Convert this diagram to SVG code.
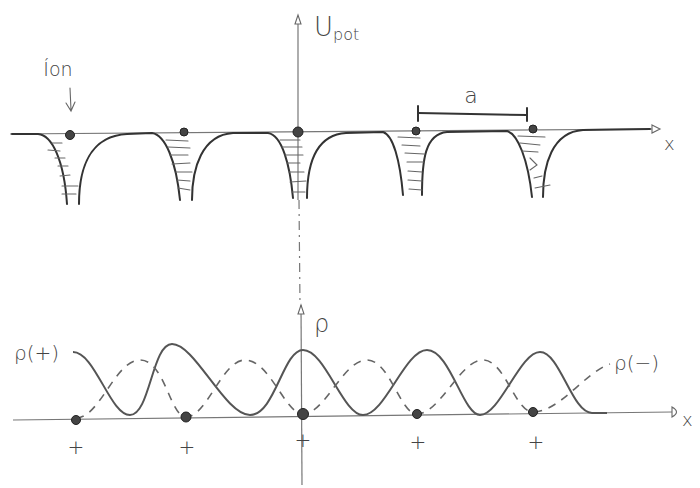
<svg xmlns="http://www.w3.org/2000/svg" width="700" height="488" viewBox="0 0 700 488">
<style>
.ax{stroke:#777;stroke-width:1.2;fill:none}
.pot{stroke:#333;stroke-width:2;fill:none;stroke-linecap:round}
.hat{stroke:#666;stroke-width:1.1;fill:none;stroke-linecap:round}
.ion{fill:#444;stroke:#222;stroke-width:1}
.sol{stroke:#555;stroke-width:2;fill:none}
.dsh{stroke:#666;stroke-width:1.6;fill:none;stroke-dasharray:8 7}
.t{font-family:"DejaVu Sans",sans-serif;fill:#444;font-weight:300}
.head{fill:#fff;stroke:#666;stroke-width:1.1}
</style>
<rect width="700" height="488" fill="#fff"/>
<g id="axes">
<line class="ax" x1="10" y1="134" x2="652" y2="129"/>
<path class="head" d="M652,125 L660,129 L652,133 Z"/>
<line class="ax" x1="298" y1="22" x2="298" y2="200"/>
<path class="head" d="M295,24 L298,15 L301,24 Z"/>
<line class="ax" x1="299" y1="200" x2="300" y2="305" stroke-dasharray="9 5 2 5"/>
<line class="ax" x1="301" y1="305" x2="302" y2="485"/>
<path class="head" d="M298,314 L301,305 L304,314 Z"/>
<line class="ax" x1="13" y1="420" x2="672" y2="412"/>
<path class="head" d="M672,407 Q681,412 672,417 Z"/>
</g>
<g id="potential">
<path class="pot" d="M12,134 L38,134 C52,135 64,160 67,204"/>
<path class="pot" d="M79,204 C79,168 90,136 127,134 L152,133 C165,135 176,160 180,200"/>
<path class="pot" d="M192,200 C192,168 202,135 233,133 L268,133 C282,135 290,165 293,198"/>
<path class="pot" d="M307,198 C307,165 315,135 346,133 L383,132 C393,135 400,160 403,195"/>
<path class="pot" d="M422,195 C422,160 425,134 447,132 L507,131 C518,134 528,160 532,197"/>
<path class="pot" d="M543,197 C543,165 552,132 583,130 L650,129"/>
</g>
<g id="hatching">
<path class="hat" d="M52,143 L62,143 M48,150 L60,151 M55,158 L65,158 M58,166 L68,166 M60,176 L70,175 M62,186 L78,186 M62,194 L76,194"/>
<path class="hat" d="M166,140 L188,141 M168,147 L190,148 M170,155 L188,155 M172,164 L190,163 M176,172 L192,172 M177,180 L190,181 M178,188 L190,190"/>
<path class="hat" d="M280,140 L300,140 M282,147 L302,147 M285,155 L303,155 M287,163 L300,163 M289,172 L304,172 M290,182 L306,181 M292,192 L305,192"/>
<path class="hat" d="M398,137 L420,138 M402,145 L420,146 M405,153 L424,154 M407,162 L424,162 M408,171 L422,172 M408,180 L422,181 M409,189 L422,190"/>
<path class="hat" d="M518,136 L545,137 M520,143 L540,145 M522,151 L538,152 M530,158 L537,165 L530,170 M534,178 L542,176 M535,188 L550,185"/>
</g>
<g id="ions-top">
<circle class="ion" cx="70" cy="135" r="4.5"/>
<circle class="ion" cx="184" cy="132" r="4"/>
<circle class="ion" cx="298" cy="132" r="5"/>
<circle class="ion" cx="416" cy="131" r="4"/>
<circle class="ion" cx="533" cy="129" r="4"/>
</g>
<g id="spacing-a">
<line class="pot" x1="418" y1="113" x2="527" y2="115" stroke-width="1.6"/>
<line class="pot" x1="418" y1="106" x2="418" y2="121" stroke-width="1.4"/>
<line class="pot" x1="527" y1="108" x2="527" y2="121" stroke-width="1.4"/>
<text class="t" x="471" y="103" font-size="22" text-anchor="middle">a</text>
</g>
<g id="ion-label">
<text class="t" x="58" y="76" font-size="19" text-anchor="middle">Íon</text>
<path class="hat" d="M70,88 L71,110 M66,103 L71,111 L75,102" stroke-width="1.3"/>
</g>
<g id="labels">
<text class="t" x="314" y="36" font-size="26">U<tspan font-size="16" dy="4">pot</tspan></text>
<text class="t" x="664" y="150" font-size="18">x</text>
<text class="t" x="314" y="332" font-size="24">ρ</text>
<text class="t" x="682" y="426" font-size="18">x</text>
<text class="t" x="14" y="360" font-size="20">ρ(+)</text>
<text class="t" x="614" y="370" font-size="20">ρ(−)</text>
</g>
<g id="densities">
<path class="sol" d="M73,352 C95,352 110,415 130,415 C150,415 152,344 172,344 C195,344 225,415 250,415 C275,415 283,350 303,350 C325,350 343,415 363,415 C385,415 405,350 427,350 C450,350 463,415 480,415 C500,415 520,352 540,352 C560,352 572,413 592,413 L607,413"/>
<path class="dsh" d="M76,418 C100,418 115,360 140,360 C165,360 170,417 186,417 C207,417 222,360 245,360 C270,360 285,414 303,414 C325,414 343,360 367,360 C390,360 400,414 417,414 C440,414 460,360 483,360 C505,360 515,412 533,412 C560,412 585,372 610,364"/>
</g>
<g id="ions-bottom">
<circle class="ion" cx="76" cy="420" r="4.5"/>
<circle class="ion" cx="186" cy="417" r="5"/>
<circle class="ion" cx="303" cy="414" r="5.5"/>
<circle class="ion" cx="417" cy="414" r="4.5"/>
<circle class="ion" cx="533" cy="412" r="4.5"/>
</g>
<g id="plus-signs">
<text class="t" x="76" y="454" font-size="20" text-anchor="middle">+</text>
<text class="t" x="187" y="454" font-size="20" text-anchor="middle">+</text>
<text class="t" x="303" y="447" font-size="20" text-anchor="middle">+</text>
<text class="t" x="418" y="449" font-size="20" text-anchor="middle">+</text>
<text class="t" x="536" y="449" font-size="20" text-anchor="middle">+</text>
</g>
</svg>
